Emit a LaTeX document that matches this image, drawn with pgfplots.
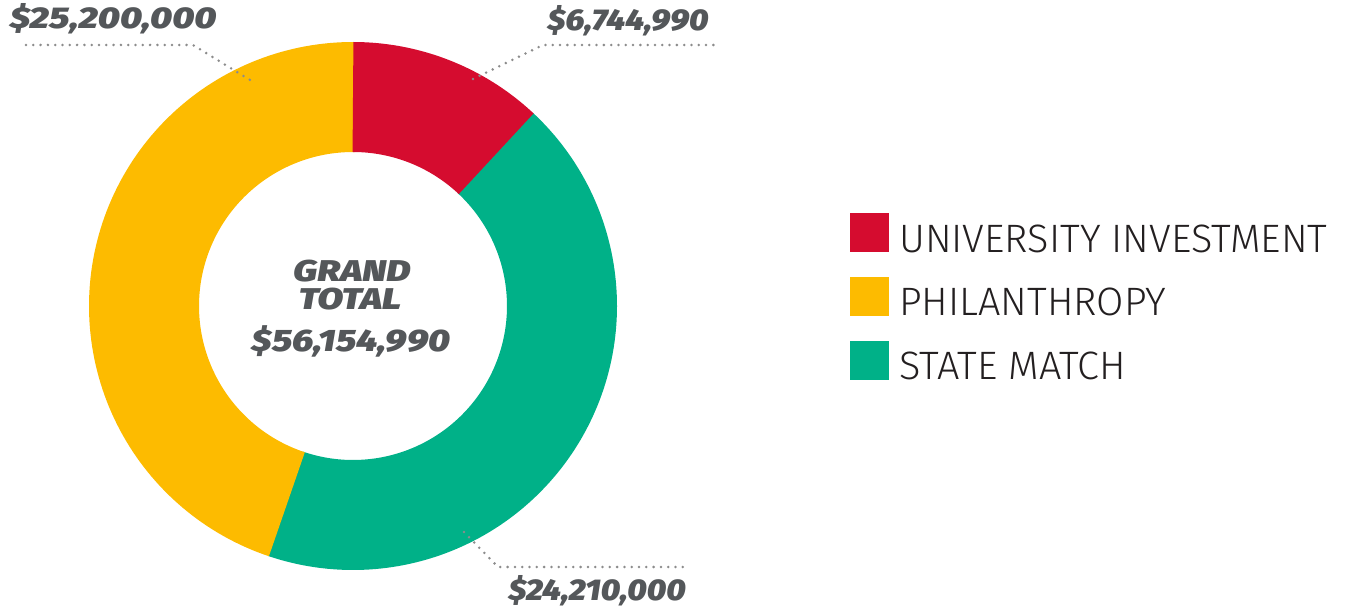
\documentclass[border=0pt]{standalone}
\usepackage{pgfplots}
\pgfplotsset{compat=1.18}
\usepackage{fontspec}
\setmainfont{Fira Sans}
\newfontfamily\lightf{Fira Sans Light}
\newfontfamily\heavyf{Fira Sans Black Italic}[FakeStretch=1.25,Numbers=Proportional]
\newfontfamily\heavyn{Fira Sans Black Italic}[FakeStretch=1.1,Numbers=Proportional]
\newfontfamily\heavym{Fira Sans Black Italic}[FakeStretch=1.2,Numbers=Proportional]
\definecolor{cUniv}{HTML}{D50C2F}
\definecolor{cPhil}{HTML}{FDBB00}
\definecolor{cState}{HTML}{00B188}
\definecolor{labgray}{HTML}{54575A}
\definecolor{legtext}{HTML}{231F20}
\definecolor{dotgray}{HTML}{8C8C8C}
% values in millions of dollars
\def\vUniv{6.74499}
\def\vState{24.21}
\def\vPhil{25.2}
\begin{document}
\begin{tikzpicture}
\pgfmathsetmacro{\tot}{\vUniv+\vState+\vPhil}
\pgfmathsetmacro{\aA}{90}
\pgfmathsetmacro{\aB}{90-360*\vUniv/\tot}
\pgfmathsetmacro{\aC}{\aB-360*\vState/\tot}
\pgfmathsetmacro{\aD}{\aC-360*\vPhil/\tot}
\pgfmathsetmacro{\aBx}{\aB+0.4}
\pgfmathsetmacro{\aCx}{\aC-0.4}
\pgfmathsetmacro{\aDx}{\aD-0.4}
\useasboundingbox (0,0) rectangle (674pt,305.5pt);
\begin{axis}[x=0.5pt,y=0.5pt,xmin=0,xmax=1348,ymin=0,ymax=611,
  hide axis,clip=false,at={(0,0)},anchor=south west,
  legend style={at={(axis cs:850,398)},anchor=north west,draw=none,fill=none,
    inner sep=0pt,font=\lightf\fontsize{19.8}{22}\selectfont,text=legtext,
    row sep=11pt,column sep=5pt,nodes={inner sep=0pt}},
  legend cell align=left]
\addplot[color=cState,line width=55pt,domain=\aCx:\aBx,samples=120,no marks,forget plot,variable=\t]
  ({353+209*cos(\t)},{305+209*sin(\t)});
\addplot[color=cPhil,line width=55pt,domain=\aDx:\aC,samples=120,no marks,forget plot,variable=\t]
  ({353+209*cos(\t)},{305+209*sin(\t)});
\addplot[color=cUniv,line width=55pt,domain=\aB:\aA,samples=60,no marks,forget plot,variable=\t]
  ({353+209*cos(\t)},{305+209*sin(\t)});
% leader lines
\addplot[dotgray,line width=1.4pt,line cap=round,dash pattern=on 0pt off 3.65pt,forget plot]
  coordinates {(26,566)(193,566)(250,531)};
\addplot[dotgray,line width=1.4pt,line cap=round,dash pattern=on 0pt off 3.65pt,forget plot]
  coordinates {(473,532)(543,566)(720,566)};
\addplot[dotgray,line width=1.4pt,line cap=round,dash pattern=on 0pt off 3.65pt,forget plot]
  coordinates {(464,79)(498,44)(688,44)};
% value labels
\node[anchor=base,inner sep=0pt,text=labgray,font=\heavyf\fontsize{15}{18}\selectfont] at (axis cs:113,582) {\$25,200,000};
\node[anchor=base,inner sep=0pt,text=labgray,font=\heavyn\fontsize{15}{18}\selectfont] at (axis cs:628,580) {\$6,744,990};
\node[anchor=base,inner sep=0pt,text=labgray,font=\heavyn\fontsize{15}{18}\selectfont] at (axis cs:597,11) {\$24,210,000};
\node[anchor=base,inner sep=0pt,text=labgray,font=\heavyf\fontsize{15}{18}\selectfont] at (axis cs:352,329) {GRAND};
\node[anchor=base,inner sep=0pt,text=labgray,font=\heavyf\fontsize{15}{18}\selectfont] at (axis cs:350,301) {TOTAL};
\node[anchor=base,inner sep=0pt,text=labgray,font=\heavym\fontsize{15.5}{18}\selectfont] at (axis cs:351,259) {\$56,154,990};
% legend
\addlegendimage{legend image code/.code={\fill[cUniv] (0pt,-6pt) rectangle (19pt,13pt);}}
\addlegendimage{legend image code/.code={\fill[cPhil] (0pt,-6pt) rectangle (19pt,13pt);}}
\addlegendimage{legend image code/.code={\fill[cState] (0pt,-6pt) rectangle (19pt,13pt);}}
\legend{UNIVERSITY INVESTMENT,PHILANTHROPY,STATE MATCH}
\end{axis}
\end{tikzpicture}
\end{document}
